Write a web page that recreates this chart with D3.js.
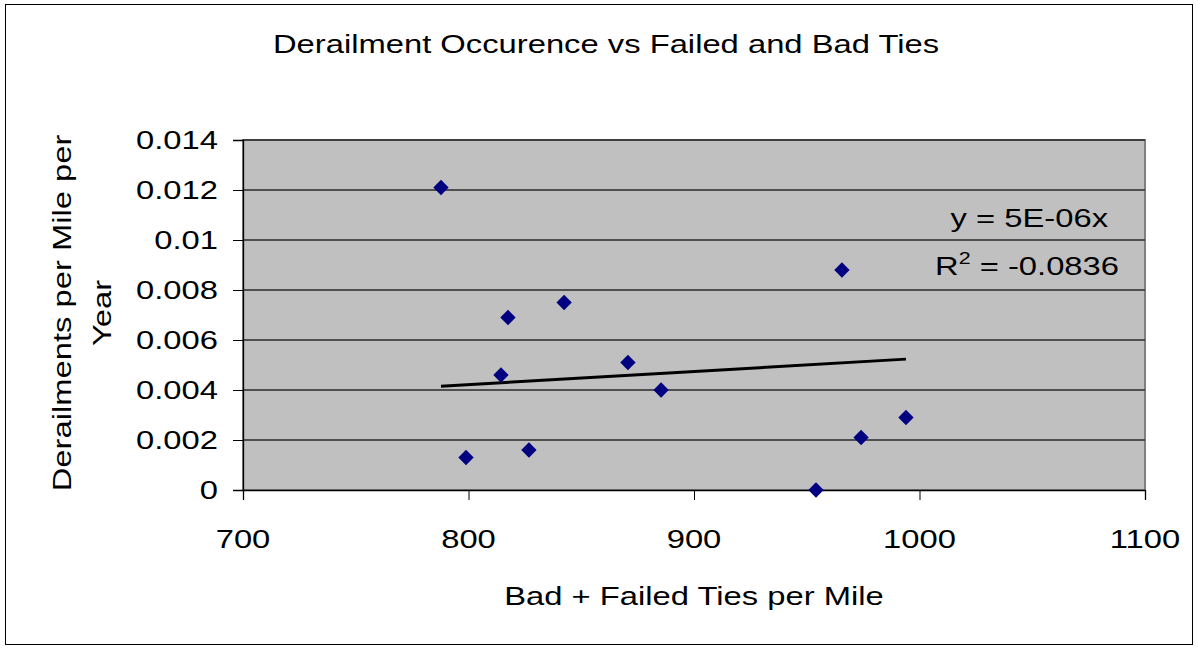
<!DOCTYPE html>
<html><head><meta charset="utf-8">
<script src="https://cdn.jsdelivr.net/npm/d3@7"></script>
<style>body{margin:0;background:#fff}svg{display:block}text{font-family:"Liberation Sans",Arial,sans-serif;fill:#000}</style>
</head><body>
<script>
const tiesPerMile = [787.8, 798.9, 814.4, 817.5, 826.8, 842.4, 870.7, 885.4, 954.1, 965.6, 974.1, 994.0];
const derailments = [0.0121, 0.0013, 0.0046, 0.0069, 0.0016, 0.0075, 0.0051, 0.0040, 0.0000, 0.0088, 0.0021, 0.0029];
const xTicks = [700, 800, 900, 1000, 1100];
const yTicks = [0, 0.002, 0.004, 0.006, 0.008, 0.01, 0.012, 0.014];
const yTickLabels = ["0", "0.002", "0.004", "0.006", "0.008", "0.01", "0.012", "0.014"];
const titleText = "Derailment Occurence vs Failed and Bad Ties";
const xTitle = "Bad + Failed Ties per Mile";
const yTitleLines = ["Derailments per Mile per", "Year"];
const eqText = "y = 5E-06x";
const r2Value = "-0.0836";

const W = 1198, H = 649, SX = 1.26, FS = 26;
const svg = d3.select("body").append("svg").attr("width", W).attr("height", H);
svg.append("rect").attr("x", 5.5).attr("y", 4.5).attr("width", 1187).attr("height", 640)
  .attr("fill", "#fff").attr("stroke", "#000").attr("stroke-width", 1);

const L = 243, R = 1145, T = 140, B = 490;
const x = d3.scaleLinear().domain([700, 1100]).range([L, R]);
const y = d3.scaleLinear().domain([0, 0.014]).range([B, T]);

function label(parent, px, py, txt, anchor, rot) {
  return parent.append("text")
    .attr("transform", `translate(${px},${py})` + (rot ? ` rotate(${rot})` : "") + ` scale(${SX},1)`)
    .attr("text-anchor", anchor).style("font-size", FS + "px").text(txt);
}

svg.append("rect").attr("x", L).attr("y", T).attr("width", R - L).attr("height", B - T)
  .attr("fill", "#c0c0c0").attr("stroke", "#808080").attr("stroke-width", 2);

// gridlines
svg.append("g").selectAll("line").data(yTicks.filter(d => d > 0)).join("line")
  .attr("x1", L).attr("x2", R).attr("y1", d => y(d)).attr("y2", d => y(d))
  .attr("stroke", "#2a2a2a").attr("stroke-width", 1.3);

// axes
const gy = svg.append("g").attr("transform", `translate(${L},0)`)
  .call(d3.axisLeft(y).tickValues(yTicks).tickSize(10).tickFormat(""));
gy.select(".domain").attr("stroke", "#000").attr("stroke-width", 1.3);
gy.selectAll(".tick line").attr("stroke", "#000");
yTicks.forEach((v, i) => label(svg, 218, y(v) + 9, yTickLabels[i], "end"));

const gx = svg.append("g").attr("transform", `translate(0,${B})`)
  .call(d3.axisBottom(x).tickValues(xTicks).tickSize(10).tickFormat(""));
gx.select(".domain").attr("stroke", "#000").attr("stroke-width", 1.3);
gx.selectAll(".tick line").attr("stroke", "#000");
xTicks.forEach(v => label(svg, x(v), 548, d3.format("d")(v), "middle"));

// trendline through origin (least squares)
const slope = d3.sum(tiesPerMile, (v, i) => v * derailments[i]) / d3.sum(tiesPerMile, v => v * v);
const xs = d3.extent(tiesPerMile);
svg.append("line").attr("x1", x(xs[0])).attr("y1", y(slope * xs[0]))
  .attr("x2", x(xs[1])).attr("y2", y(slope * xs[1]))
  .attr("stroke", "#000").attr("stroke-width", 3);

// points
const pts = tiesPerMile.map((v, i) => [v, derailments[i]]);
svg.append("g").selectAll("path").data(pts).join("path")
  .attr("d", d3.symbol(d3.symbolDiamond2, 150)())
  .attr("transform", d => `translate(${x(d[0])},${y(d[1])})`)
  .attr("fill", "#000080");

// titles
label(svg, 606, 53, titleText, "middle");
label(svg, 694, 605, xTitle, "middle");
const yt = svg.append("text").attr("transform", `translate(71,313) rotate(-90) scale(${SX},1)`)
  .attr("text-anchor", "middle").style("font-size", FS + "px");
yt.selectAll("tspan").data(yTitleLines).join("tspan")
  .attr("x", 0).attr("dy", (d, i) => i === 0 ? 0 : 40).text(d => d);

// equation
label(svg, 1108, 227, eqText, "end");
const r2 = svg.append("text").attr("transform", `translate(1119,275) scale(${SX},1)`)
  .attr("text-anchor", "end").style("font-size", FS + "px");
r2.append("tspan").text("R");
r2.append("tspan").attr("dy", -11).style("font-size", "17px").text("2");
r2.append("tspan").attr("dy", 11).text(" = " + r2Value);
</script>
</body></html>
